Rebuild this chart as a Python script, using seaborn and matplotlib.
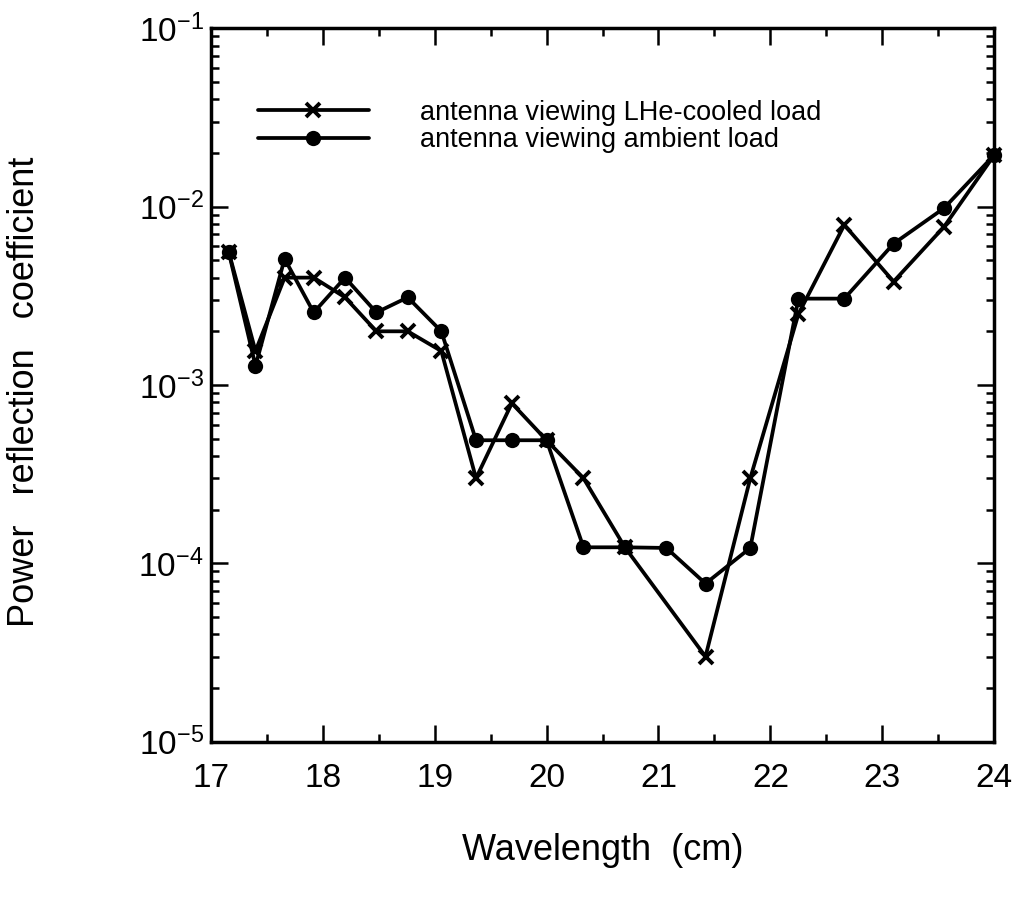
import matplotlib
matplotlib.use("Agg")
import matplotlib.pyplot as plt
import matplotlib.ticker as mticker
import pandas as pd
import seaborn as sns

# values
wavelength_cooled = [17.16, 17.40, 17.66, 17.92, 18.20, 18.48, 18.76, 19.06, 19.37, 19.69,
                     20.00, 20.33, 20.70, 21.42, 21.82, 22.25, 22.66, 23.10, 23.55, 24.00]
refl_cooled = [5.6e-3, 1.55e-3, 4.0e-3, 4.0e-3, 3.1e-3, 2.0e-3, 2.0e-3, 1.55e-3, 3.0e-4, 7.9e-4,
               4.9e-4, 3.0e-4, 1.23e-4, 3.0e-5, 3.0e-4, 2.5e-3, 7.9e-3, 3.8e-3, 7.7e-3, 1.95e-2]

wavelength_ambient = [17.16, 17.40, 17.66, 17.92, 18.20, 18.48, 18.76, 19.06, 19.37, 19.69,
                      20.00, 20.33, 20.70, 21.07, 21.42, 21.82, 22.25, 22.66, 23.10, 23.55, 24.00]
refl_ambient = [5.6e-3, 1.28e-3, 5.1e-3, 2.55e-3, 4.0e-3, 2.55e-3, 3.1e-3, 2.0e-3, 4.9e-4, 4.9e-4,
                4.9e-4, 1.23e-4, 1.23e-4, 1.22e-4, 7.7e-5, 1.22e-4, 3.05e-3, 3.05e-3, 6.2e-3, 9.8e-3, 1.95e-2]

label_cooled = "antenna viewing LHe-cooled load"
label_ambient = "antenna viewing ambient load"

df_cooled = pd.DataFrame({"wl": wavelength_cooled, "r": refl_cooled})
df_ambient = pd.DataFrame({"wl": wavelength_ambient, "r": refl_ambient})

sns.set_style("ticks")
plt.rcParams["font.family"] = ["Liberation Sans", "DejaVu Sans"]
plt.rcParams["text.color"] = "black"
plt.rcParams["axes.labelcolor"] = "black"

fig = plt.figure(figsize=(10.17, 8.99), dpi=100)
ax = fig.add_axes([0.2072, 0.175, 0.7705, 0.7935])

sns.lineplot(data=df_cooled, x="wl", y="r", ax=ax, color="black", lw=2.7,
             marker="x", markersize=10, markeredgewidth=2.8, markeredgecolor="black",
             label=label_cooled, sort=False, clip_on=False)
sns.lineplot(data=df_ambient, x="wl", y="r", ax=ax, color="black", lw=2.7,
             marker="o", markersize=11, markeredgewidth=0, markerfacecolor="black",
             label=label_ambient, sort=False, clip_on=False)

ax.set_yscale("log")
ax.set_xlim(17, 24)
ax.set_ylim(1e-5, 1e-1)
ax.xaxis.set_major_locator(mticker.MultipleLocator(1))
ax.xaxis.set_minor_locator(mticker.MultipleLocator(0.5))
ax.yaxis.set_major_locator(mticker.LogLocator(base=10, numticks=10))
ax.yaxis.set_minor_locator(mticker.LogLocator(base=10, subs=range(2, 10), numticks=20))
ax.yaxis.set_minor_formatter(mticker.NullFormatter())

for s in ax.spines.values():
    s.set_linewidth(2.5)
    s.set_color("black")
    s.set_visible(True)

ax.tick_params(which="both", direction="in", top=True, right=True, width=1.8,
               colors="black", labelcolor="black")
ax.tick_params(which="major", length=12, labelsize=24)
ax.tick_params(axis="x", which="major", pad=15)
ax.tick_params(axis="y", which="major", pad=5)
ax.tick_params(which="minor", length=6)

ax.set_xlabel("Wavelength  (cm)", fontsize=26)
ax.set_ylabel("Power   reflection   coefficient", fontsize=26)
ax.xaxis.set_label_coords(0.5, -0.128)
ax.yaxis.set_label_coords(-0.215, 0.49)

leg = ax.legend(loc="upper left", bbox_to_anchor=(0.06, 0.9), frameon=False,
                fontsize=19.5, handlelength=4.1, handletextpad=1.9, labelspacing=0.05,
                borderpad=0, borderaxespad=0)
for t in leg.get_texts():
    t.set_color("black")

fig.savefig("out.png", dpi=100)
